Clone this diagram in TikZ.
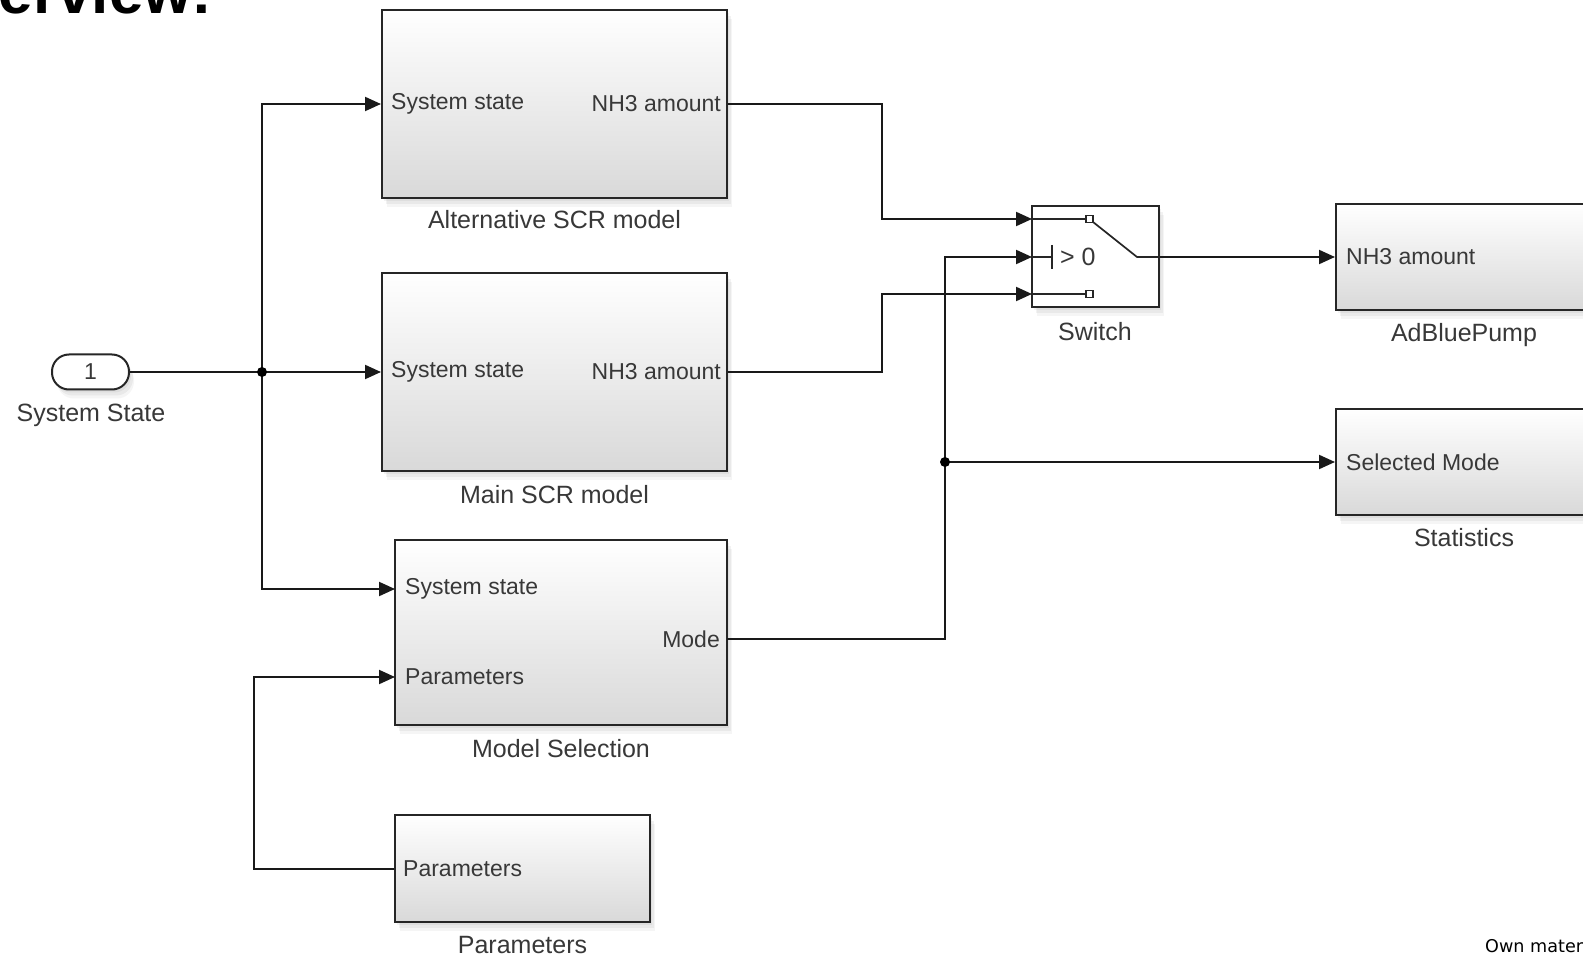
\documentclass[tikz,border=0pt]{standalone}
\usepackage{fontspec}
\setmainfont{Liberation Sans}
\newfontfamily\djv{DejaVu Sans}
\usetikzlibrary{arrows.meta,shadows,calc}
\begin{document}
\begin{tikzpicture}[x=1pt,y=-1pt,
  lbl/.style={font=\fontsize{23}{27}\selectfont, text=black!78, inner sep=0pt},
  nm/.style={font=\fontsize{25}{29}\selectfont, text=black!78, inner sep=0pt},
  softshadow/.style={
    drop shadow={opacity=0.10, shadow xshift=2pt, shadow yshift=-3pt},
    drop shadow={opacity=0.10, shadow xshift=4pt, shadow yshift=-6pt},
    drop shadow={opacity=0.08, shadow xshift=5pt, shadow yshift=-9pt}},
  blk/.style={draw=black!85, line width=2pt, top color=white, bottom color=black!15, softshadow},
  wire/.style={line width=2pt, draw=black!90},
  arr/.style={wire, -{Triangle[length=16pt,width=14pt]}},
  jdot/.style={circle, fill=black, inner sep=0pt, minimum size=10pt},
  swl/.style={line width=1.7pt, draw=black!85}]
\clip (0,0) rectangle (1583,957);
\fill[white] (0,0) rectangle (1583,957);

% title (cut at page edge)
\node[anchor=base west, inner sep=0pt, font=\fontsize{62}{70}\selectfont\bfseries] (title) at (-84,14) {Overview:};

% blocks
\node[blk, minimum width=345, minimum height=188] (alt) at (554.5,104) {};
\node[blk, minimum width=345, minimum height=198] (main) at (554.5,372) {};
\node[blk, minimum width=332, minimum height=185] (ms) at (561,632.5) {};
\node[blk, minimum width=255, minimum height=107] (par) at (522.5,868.5) {};
\node[blk, minimum width=254, minimum height=106] (pump) at (1463,257) {};
\node[blk, minimum width=254, minimum height=106] (stat) at (1463,462) {};
\node[blk, bottom color=white, minimum width=127, minimum height=101] (sw) at (1095.5,257) {};
\node[draw=black!85, line width=2pt, fill=white, rounded corners=17pt, minimum width=77, minimum height=35,
  softshadow, lbl] (in) at (90.5,372) {1};

% block names
\node[nm] (inname) at (91,415) {System State};
\node[nm] (altname) at (554.5,220) {Alternative SCR model};
\node[nm] (mainname) at (554.5,495) {Main SCR model};
\node[nm] (msname) at (561,749) {Model Selection};
\node[nm] (parname) at (522.5,945) {Parameters};
\node[nm] (swname) at (1095,332) {Switch};
\node[nm] (pumpname) at (1464,335) {AdBluePump};
\node[nm] (statname) at (1464,538) {Statistics};

% port coordinates
\coordinate (msin1) at (395,589);
\coordinate (msin2) at (395,677);
\coordinate (msout) at (727,639);
\coordinate (swin1) at (1032,219);
\coordinate (swin2) at (1032,257);
\coordinate (swin3) at (1032,294);
\coordinate (j1) at (262,372);
\coordinate (j2) at (945,462);

% port labels
\node[lbl, anchor=west] (altin) at ($(alt.west)+(10,0)$) {System state};
\node[lbl, anchor=east] (altout) at ($(alt.east)+(-7,0)$) {NH3 amount};
\node[lbl, anchor=west] (mainin) at ($(main.west)+(10,0)$) {System state};
\node[lbl, anchor=east] (mainout) at ($(main.east)+(-7,0)$) {NH3 amount};
\node[lbl, anchor=west] (msinl1) at ($(msin1)+(10,0)$) {System state};
\node[lbl, anchor=west] (msinl2) at ($(msin2)+(10,0)$) {Parameters};
\node[lbl, anchor=east] (msoutl) at ($(msout)+(-7,0)$) {Mode};
\node[lbl, anchor=west] (parout) at ($(par.west)+(9,0)$) {Parameters};
\node[lbl, anchor=west] (pumpin) at ($(pump.west)+(11,0)$) {NH3 amount};
\node[lbl, anchor=west] (statin) at ($(stat.west)+(11,0)$) {Selected Mode};

% switch internals
\draw[swl] (swin1) -- (1086,219);
\draw[swl] (swin3) -- (1086,294);
\draw[swl, fill=white] (1086,215.5) rectangle (1093,222.5);
\draw[swl, fill=white] (1086,290.5) rectangle (1093,297.5);
\draw[swl] (swin2) -- (1052,257);
\draw[swl] (1052,245) -- (1052,269);
\node[nm, anchor=west] (swcond) at (1060,257) {> 0};
\draw[swl] (1093,222) -- (1137,257) -- (sw.east);

% wires
\draw[wire] (in.east) -- (j1);
\draw[arr] (j1) -- (main.west);
\draw[arr] (j1) |- (alt.west);
\draw[arr] (j1) |- (msin1);
\draw[arr] (par.west) -- ++(-140,0) |- (msin2);
\draw[arr] (alt.east) -- ++(154,0) |- (swin1);
\draw[arr] (main.east) -- ++(154,0) |- (swin3);
\draw[arr] (msout) -- ++(218,0) |- (swin2);
\draw[arr] (j2) -- (stat.west);
\draw[arr] (sw.east) -- (pump.west);
\node[jdot] (j1dot) at (j1) {};
\node[jdot] (j2dot) at (j2) {};

% source note (cut at page edge)
\node[anchor=base west, inner sep=0pt, font=\djv\fontsize{17.6}{20}\selectfont] (note) at (1485,952) {Own material};
\end{tikzpicture}
\end{document}
